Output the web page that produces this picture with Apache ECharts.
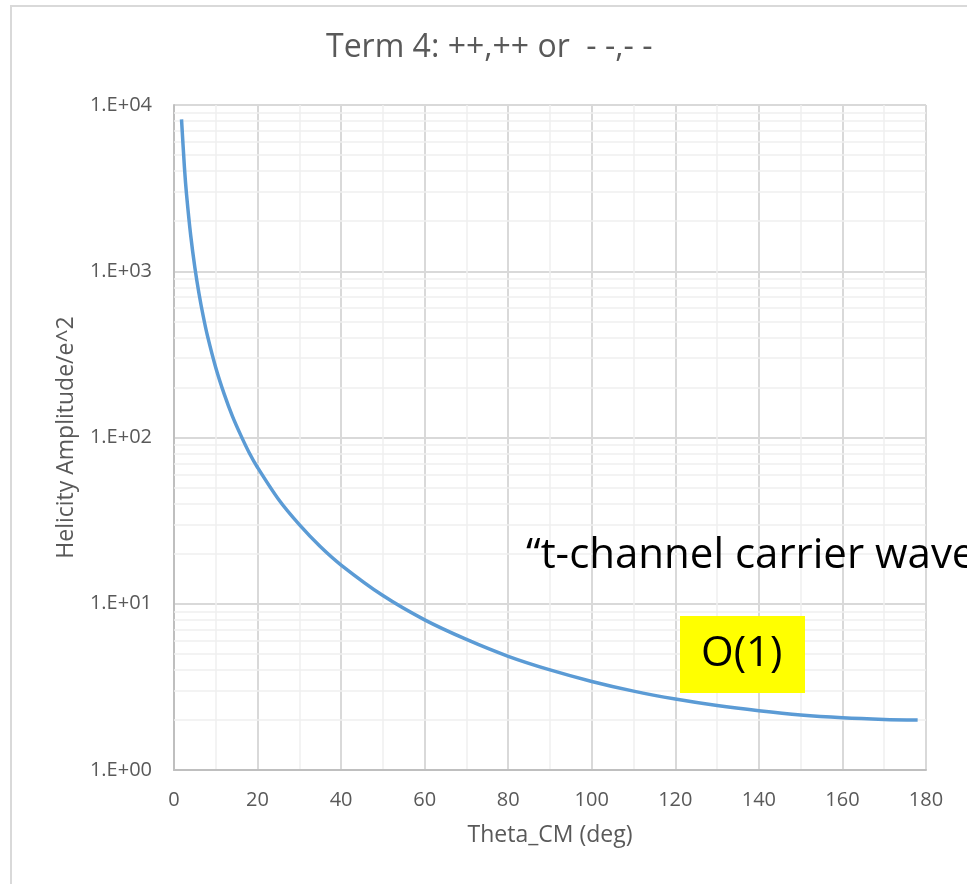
<!DOCTYPE html>
<html>
<head>
<meta charset="utf-8">
<script src="https://cdn.jsdelivr.net/npm/echarts@6/dist/echarts.min.js"></script>
<style>
  html, body { margin: 0; padding: 0; background: #ffffff; }
  #chart { width: 967px; height: 884px; }
</style>
</head>
<body>
<div id="chart"></div>
<script>
// Scattering angle in the CM frame (degrees)
const theta = [1.8, 2.5, 3, 4, 5, 6, 7, 8, 10, 12, 14, 16, 18, 20, 25, 30, 35, 40,
  50, 60, 70, 80, 90, 100, 110, 120, 130, 140, 150, 160, 170, 178];
// Helicity amplitude / e^2 for ++,++ (or --,--)
const amplitude = [8200, 4200, 2900, 1640, 1050, 730, 536, 410, 263, 183, 134, 103, 81, 66,
  42.5, 29.9, 22.1, 17.1, 11.2, 8.0, 6.1, 4.83, 4.0, 3.41, 2.98, 2.67, 2.44, 2.27,
  2.14, 2.06, 2.015, 2.0];
// Decade ticks of the log axis
const yTicks = [1, 10, 100, 1000, 10000];
// Minor grid values inside each decade
const yMinor = [];
for (let d = 0; d < yTicks.length - 1; d++) {
  for (let k = 2; k <= 9; k++) yMinor.push(k * yTicks[d]);
}

const FONT = '"Open Sans", "Noto Sans", sans-serif';
const GREY = '#595959';

const chart = echarts.init(document.getElementById('chart'), null, { renderer: 'canvas' });

chart.setOption({
  backgroundColor: '#ffffff',
  animation: false,
  grid: { left: 174, right: 41, top: 105, bottom: 114, containLabel: false },
  xAxis: {
    type: 'value',
    min: 0,
    max: 180,
    interval: 20,
    name: 'Theta_CM (deg)',
    nameLocation: 'middle',
    nameGap: 54,
    nameTextStyle: { fontFamily: FONT, fontSize: 23, color: GREY },
    axisLine: { show: true, onZero: false, lineStyle: { color: '#bfbfbf', width: 2 } },
    axisTick: { show: false },
    axisLabel: { fontFamily: FONT, fontSize: 20, color: GREY, margin: 20 },
    splitLine: { show: true, lineStyle: { color: '#d9d9d9', width: 2 } },
    minorTick: { show: false, splitNumber: 2 },
    minorSplitLine: { show: true, lineStyle: { color: '#efefef', width: 1.5 } }
  },
  yAxis: {
    type: 'log',
    logBase: 10,
    min: yTicks[0],
    max: yTicks[yTicks.length - 1],
    name: 'Helicity Amplitude/e^2',
    nameLocation: 'middle',
    nameGap: 96,
    nameTextStyle: { fontFamily: FONT, fontSize: 23, color: GREY },
    axisLine: { show: true, lineStyle: { color: '#bfbfbf', width: 2 } },
    axisTick: { show: false },
    axisLabel: {
      fontFamily: FONT, fontSize: 20, color: GREY, margin: 22,
      formatter: v => '1.E+' + String(Math.round(Math.log10(v))).padStart(2, '0')
    },
    splitLine: { show: true, lineStyle: { color: '#d9d9d9', width: 2 } }
  },
  graphic: [
    // outer frame edges
    { type: 'line', shape: { x1: 10, y1: 6, x2: 967, y2: 6 }, style: { stroke: '#d9d9d9', lineWidth: 2 }, silent: true },
    { type: 'line', shape: { x1: 11, y1: 6, x2: 11, y2: 884 }, style: { stroke: '#d9d9d9', lineWidth: 2 }, silent: true },
    {
      type: 'text', left: 326, top: 32,
      style: { text: 'Term 4: ++,++ or  - -,- -', font: '32px ' + FONT, fill: GREY }
    },
    {
      type: 'text', left: 526, top: 535, z: 100, zlevel: 1,
      style: { text: '\u201Ct-channel carrier wave\u201D', font: '42px ' + FONT, fill: '#000000' }
    },
    {
      type: 'rect', left: 680, top: 616, z: 100, zlevel: 1,
      shape: { x: 0, y: 0, width: 125, height: 77 }, style: { fill: '#ffff00' }
    },
    {
      type: 'text', left: 701, top: 633, z: 101, zlevel: 1,
      style: { text: 'O(1)', font: '42px ' + FONT, fill: '#000000' }
    }
  ],
  series: [
    {
      // minor horizontal grid of the log axis
      type: 'line',
      data: [],
      silent: true,
      z: 1,
      markLine: {
        silent: true,
        symbol: 'none',
        label: { show: false },
        animation: false,
        lineStyle: { color: '#efefef', width: 1.5, type: 'solid' },
        data: yMinor.map(v => ({ yAxis: v }))
      }
    },
    {
      type: 'line',
      data: theta.map((t, i) => [t, amplitude[i]]),
      smooth: 0.3,
      showSymbol: false,
      z: 5,
      lineStyle: { color: '#5b9bd5', width: 3.5 }
    }
  ]
});
</script>
</body>
</html>
